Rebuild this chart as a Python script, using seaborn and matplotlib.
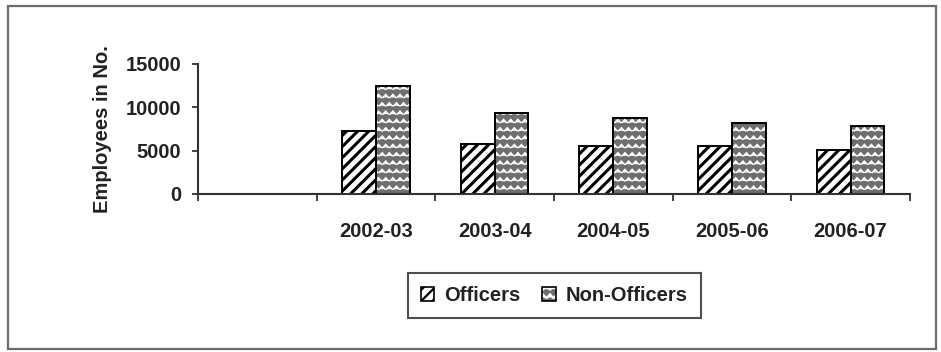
import warnings

import numpy as np
import pandas as pd
import matplotlib
matplotlib.use("Agg")
import matplotlib.pyplot as plt
import matplotlib.colors as mcolors
import matplotlib.hatch as mhatch
from matplotlib.patches import Patch, Rectangle
from matplotlib.path import Path
from matplotlib.ticker import FixedLocator, NullFormatter, FixedFormatter
import seaborn as sns

warnings.filterwarnings("ignore")

# ---- data -------------------------------------------------------------
years = ["2002-03", "2003-04", "2004-05", "2005-06", "2006-07"]
officers = [7300, 5800, 5500, 5500, 5100]
non_officers = [12500, 9400, 8800, 8200, 7900]
series = ["Officers", "Non-Officers"]
y_ticks = [0, 5000, 10000, 15000]
slots = [""] + years          # leading empty category slot


# ---- staggered chevron ("wave") hatch, selected with '^' ----------------
class ChevronHatch(mhatch.HatchPatternBase):
    def __init__(self, hatch, density):
        n = hatch.count("^")
        self.rows = int(n * density)
        self.cols = int(n * density * 7 / 6)
        if self.rows % 2:
            self.rows += 1
        # even rows: cols + 1 chevrons (edges wrap), odd rows: cols chevrons
        n_chev = (self.rows // 2) * (self.cols + 1) + (self.rows // 2) * self.cols
        self.num_vertices = 3 * n_chev if n else 0

    def set_vertices_and_codes(self, vertices, codes):
        dx = 1.0 / self.cols
        dy = 1.0 / self.rows
        w = 0.40 * dx
        h = 0.38 * dy
        k = 0
        for i in range(self.rows):
            y0 = (i + 0.3) * dy
            if i % 2 == 0:
                centers = np.arange(self.cols + 1) * dx
            else:
                centers = (np.arange(self.cols) + 0.5) * dx
            for cx in centers:
                vertices[k] = (cx - w, y0)
                vertices[k + 1] = (cx, y0 + h)
                vertices[k + 2] = (cx + w, y0)
                codes[k] = Path.MOVETO
                codes[k + 1] = Path.LINETO
                codes[k + 2] = Path.LINETO
                k += 3


mhatch._hatch_types.append(ChevronHatch)


def style_hatch(p, hatch, color, lw):
    p.set_hatch(hatch)
    if hasattr(p, "set_hatchcolor"):
        p.set_hatchcolor(color)
    else:
        p._hatch_color = mcolors.to_rgba(color)
    if hasattr(p, "set_hatch_linewidth"):
        p.set_hatch_linewidth(lw)


hatches = {"Officers": "///", "Non-Officers": "^^"}
hatch_colors = {"Officers": "black", "Non-Officers": "white"}
hatch_widths = {"Officers": 2.2, "Non-Officers": 1.0}
fills = {"Officers": "white", "Non-Officers": "#6e6e6e"}

# ---- style ------------------------------------------------------------
sns.set_style("ticks")
plt.rcParams["font.family"] = ["Liberation Sans", "DejaVu Sans"]
plt.rcParams["font.weight"] = "bold"
plt.rcParams["hatch.linewidth"] = 1.6
text_color = "#222222"

fig = plt.figure(figsize=(9.41, 3.52), dpi=100)
fig.patch.set_facecolor("white")
ax = fig.add_axes([0.2104, 0.4489, 0.7566, 0.3693])

df = pd.DataFrame({
    "Year": years * 2,
    "Group": ["Officers"] * len(years) + ["Non-Officers"] * len(years),
    "Employees": officers + non_officers,
})

sns.barplot(data=df, x="Year", y="Employees", hue="Group",
            order=slots, hue_order=series, palette=fills, saturation=1,
            width=0.57, edgecolor="black", linewidth=1.4,
            errorbar=None, legend=False, ax=ax)

for container, name in zip(ax.containers, series):
    for bar in container:
        style_hatch(bar, hatches[name], hatch_colors[name], hatch_widths[name])

# ---- axes -------------------------------------------------------------
ax.set_xlim(-0.5, len(slots) - 0.5)
ax.set_ylim(0, 15000)
ax.yaxis.set_major_locator(FixedLocator(y_ticks))
ax.yaxis.set_major_formatter(FixedFormatter([str(t) for t in y_ticks]))
ax.xaxis.set_major_locator(FixedLocator(np.arange(len(slots) + 1) - 0.5))
ax.xaxis.set_major_formatter(NullFormatter())
ax.xaxis.set_minor_locator(FixedLocator(np.arange(len(slots))))
ax.xaxis.set_minor_formatter(FixedFormatter(slots))

ax.tick_params(axis="x", which="minor", length=0, pad=20,
               labelsize=14.5, labelcolor=text_color)
ax.tick_params(axis="x", which="major", length=5, width=1.3,
               direction="out", color="#333333")
ax.tick_params(axis="y", length=4, width=1.3, pad=8, color="#333333",
               labelsize=14.5, labelcolor=text_color)

ax.set_xlabel("")
ax.set_ylabel("Employees in No.", fontsize=14.5, fontweight="bold",
              color=text_color, labelpad=9.5)

sns.despine(ax=ax)
for side in ("left", "bottom"):
    ax.spines[side].set_linewidth(1.5)
    ax.spines[side].set_color("#333333")

# ---- legend -----------------------------------------------------------
handles = []
for name in series:
    h = Patch(facecolor=fills[name], edgecolor="black", linewidth=1.2, label=name)
    style_hatch(h, hatches[name], hatch_colors[name], hatch_widths[name])
    handles.append(h)

leg = fig.legend(handles=handles, loc="upper center", ncol=2,
                 bbox_to_anchor=(0.589, 0.2244), frameon=True, fancybox=False,
                 shadow=False, handlelength=0.65, handleheight=0.65,
                 handletextpad=0.5, columnspacing=1.1, borderpad=0.65,
                 borderaxespad=0.0, prop={"size": 14.5, "weight": "bold"})
leg.get_frame().set_edgecolor("#222222")
leg.get_frame().set_linewidth(1.5)
for t in leg.get_texts():
    t.set_color(text_color)

# ---- outer border -----------------------------------------------------
fig.add_artist(Rectangle((0.009, 0.008), 0.986, 0.975, transform=fig.transFigure,
                         fill=False, edgecolor="#6b6b6b", linewidth=1.6))

fig.savefig("out.png", dpi=100, facecolor="white")
